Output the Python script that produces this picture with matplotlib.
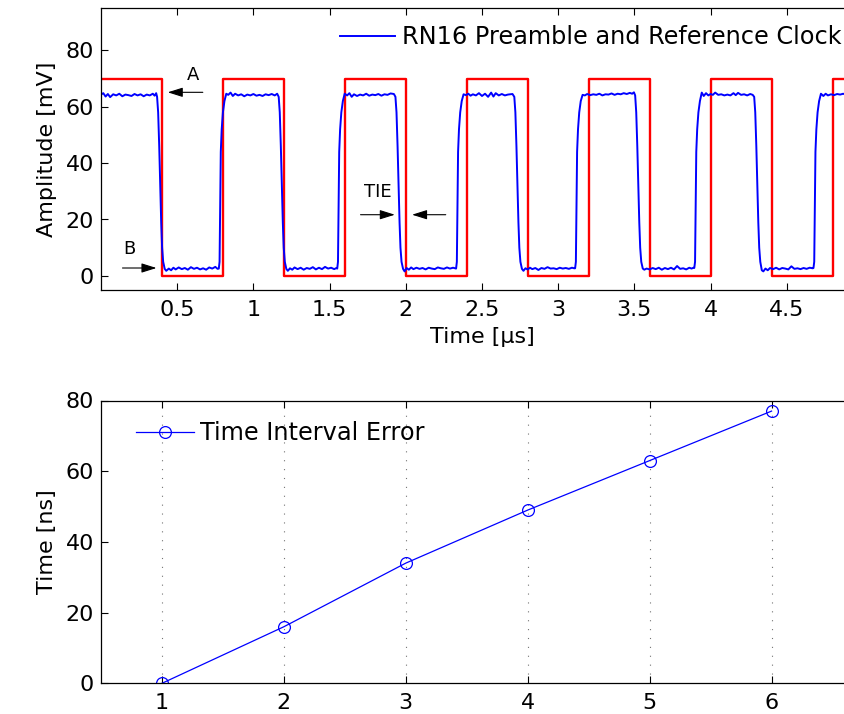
import matplotlib
matplotlib.use('Agg')
import matplotlib.pyplot as plt

plt.rcParams['font.family'] = ['DejaVu Sans']

# ---------------- data ----------------
# reference clock (step levels, mV) at switching instants (us)
clock_t = [0.0, 0.4, 0.8, 1.2, 1.6, 2.0, 2.4, 2.8, 3.2, 3.6, 4.0, 4.4, 4.8, 5.2]
clock_mv = [70, 0, 70, 0, 70, 0, 70, 0, 70, 0, 70, 0, 70, 0]

# RN16 preamble trace (us, mV)
blue_t = [
    0.000, 0.015, 0.030, 0.045, 0.060, 0.080, 0.100, 0.120, 0.140, 0.160, 0.180, 0.200, 0.220, 0.240, 0.260, 0.280, 0.300, 0.320, 0.340, 0.352, 0.362,
    0.368, 0.375, 0.382, 0.388, 0.395, 0.401, 0.408, 0.418, 0.428,
    0.445, 0.46, 0.475, 0.49, 0.51, 0.53, 0.55, 0.57, 0.59, 0.61, 0.63, 0.65, 0.67, 0.69, 0.71, 0.73, 0.75, 0.765,
    0.773, 0.778, 0.782, 0.786, 0.792, 0.800, 0.810, 0.822,
    0.835, 0.85, 0.865, 0.88, 0.90, 0.92, 0.94, 0.96, 0.98, 1.00, 1.02, 1.04, 1.06, 1.08, 1.10, 1.12, 1.14, 1.156,
    1.166, 1.173, 1.180, 1.186, 1.193, 1.199, 1.206, 1.216, 1.226,
    1.24, 1.255, 1.27, 1.29, 1.31, 1.33, 1.35, 1.37, 1.39, 1.41, 1.43, 1.45, 1.47, 1.49, 1.51, 1.53, 1.545,
    1.550, 1.555, 1.559, 1.563, 1.569, 1.577, 1.587, 1.599,
    1.615, 1.63, 1.645, 1.66, 1.68, 1.70, 1.72, 1.74, 1.76, 1.78, 1.80, 1.82, 1.84, 1.86, 1.88, 1.90, 1.922,
    1.932, 1.939, 1.946, 1.952, 1.959, 1.965, 1.972, 1.982, 1.992,
    2.005, 2.02, 2.035, 2.05, 2.07, 2.09, 2.11, 2.13, 2.15, 2.17, 2.19, 2.21, 2.23, 2.25, 2.27, 2.29, 2.31, 2.325,
    2.330, 2.335, 2.339, 2.343, 2.349, 2.357, 2.367, 2.379,
    2.395, 2.41, 2.425, 2.44, 2.46, 2.48, 2.50, 2.52, 2.54, 2.56, 2.575, 2.59, 2.61, 2.63, 2.65, 2.67, 2.70,
    2.712, 2.719, 2.726, 2.732, 2.739, 2.745, 2.752, 2.762, 2.772,
    2.785, 2.80, 2.815, 2.83, 2.85, 2.87, 2.89, 2.91, 2.93, 2.95, 2.97, 2.99, 3.01, 3.03, 3.05, 3.07, 3.09, 3.105,
    3.111, 3.116, 3.120, 3.124, 3.130, 3.138, 3.148, 3.160,
    3.175, 3.19, 3.21, 3.23, 3.25, 3.27, 3.29, 3.31, 3.33, 3.35, 3.37, 3.39, 3.41, 3.43, 3.45, 3.47, 3.485, 3.497,
    3.505, 3.512, 3.519, 3.525, 3.532, 3.538, 3.545, 3.555, 3.565,
    3.58, 3.60, 3.62, 3.64, 3.66, 3.68, 3.70, 3.72, 3.74, 3.76, 3.78, 3.80, 3.82, 3.84, 3.86, 3.875, 3.888,
    3.893, 3.898, 3.902, 3.906, 3.912, 3.920, 3.930, 3.942,
    3.955, 3.97, 3.985, 4.00, 4.015, 4.03, 4.05, 4.07, 4.09, 4.11, 4.13, 4.15, 4.165, 4.18, 4.20, 4.22, 4.24, 4.26, 4.276,
    4.286, 4.293, 4.300, 4.306, 4.313, 4.319, 4.326, 4.336, 4.346,
    4.36, 4.375, 4.39, 4.41, 4.43, 4.45, 4.47, 4.49, 4.51, 4.53, 4.55, 4.57, 4.59, 4.61, 4.63, 4.65, 4.67,
    4.675, 4.680, 4.684, 4.688, 4.694, 4.702, 4.712, 4.724,
    4.74, 4.755, 4.77, 4.79, 4.81, 4.83, 4.85, 4.87, 4.89, 4.91, 4.93, 4.95, 4.97, 5.0,
]
blue_mv = [
    64.3, 64.8, 63.6, 64.5, 63.4, 64.4, 64.0, 64.6, 63.7, 64.3, 64.1, 63.8, 64.5, 64.0, 64.4, 63.7, 64.3, 64.0, 64.6, 63.9, 64.8,
    63.5, 58, 46, 33, 19, 10, 5, 2.5, 1.8,
    2.6, 2.0, 2.9, 2.3, 3.0, 2.4, 2.8, 2.2, 3.1, 2.5, 2.9, 2.3, 2.7, 2.2, 3.0, 2.6, 3.2, 2.5,
    2.6, 5, 25, 44, 52, 58, 62, 64.6,
    64.2, 65.0, 63.8, 64.6, 64.0, 64.4, 63.7, 64.3, 64.0, 64.5, 63.9, 64.2, 63.8, 64.4, 64.1, 64.5, 64.0, 64.6,
    63.5, 58, 46, 33, 19, 10, 5, 2.5, 1.8,
    2.7, 2.2, 3.0, 2.4, 2.9, 2.2, 2.8, 2.5, 3.1, 2.3, 2.9, 2.4, 3.2, 2.6, 2.9, 2.4, 2.8,
    2.6, 5, 25, 44, 52, 58, 62, 64.6,
    64.0, 64.8, 63.5, 64.4, 63.8, 64.3, 64.0, 64.6, 63.9, 64.3, 64.1, 64.5, 63.9, 64.4, 64.2, 64.7, 64.5,
    63.5, 58, 46, 33, 19, 10, 5, 2.5, 1.6,
    2.8, 2.2, 3.0, 2.4, 2.9, 2.5, 2.8, 2.3, 2.9, 2.6, 2.4, 3.0, 2.7, 2.5, 3.0, 2.6, 2.9, 2.7,
    2.6, 5, 25, 44, 52, 58, 62, 64.4,
    64.1, 64.6, 63.9, 64.4, 64.0, 64.8, 63.8, 64.6, 63.5, 65.0, 63.6, 64.8, 64.0, 64.5, 64.0, 64.3, 64.5,
    63.5, 58, 46, 33, 19, 10, 5, 2.5, 1.8,
    2.7, 2.3, 2.9, 2.4, 2.8, 2.1, 2.8, 2.5, 3.1, 2.6, 2.7, 2.4, 2.9, 2.6, 2.8, 2.5, 2.9, 2.7,
    2.7, 5, 25, 44, 52, 58, 62, 64.2,
    64.0, 64.5, 64.1, 64.4, 64.2, 64.6, 64.0, 64.4, 64.3, 64.7, 64.2, 64.6, 64.4, 64.8, 64.5, 64.9, 64.6, 65.1,
    64.0, 58, 46, 33, 19, 10, 5, 2.6, 2.2,
    2.6, 2.3, 2.8, 2.4, 2.9, 2.2, 2.8, 2.4, 2.9, 2.3, 3.5, 2.5, 2.7, 2.3, 2.9, 2.6, 2.9,
    2.8, 5, 25, 44, 52, 58, 62, 65.0,
    63.8, 64.8, 64.0, 64.5, 64.2, 65.0, 64.2, 64.4, 64.0, 64.3, 64.0, 64.8, 64.1, 64.9, 64.2, 64.4, 64.0, 64.5, 64.2,
    63.5, 58, 46, 33, 19, 10, 5, 2.0, 1.6,
    2.6, 2.0, 2.8, 2.4, 2.9, 2.3, 2.8, 2.6, 2.3, 3.4, 2.5, 2.7, 2.4, 2.8, 2.5, 2.9, 2.7,
    2.8, 5, 25, 44, 52, 58, 62, 64.6,
    63.8, 64.6, 64.0, 64.4, 64.1, 64.5, 64.3, 64.6, 64.2, 64.5, 64.3, 64.6, 64.2, 64.4,
]

tie_index = [1, 2, 3, 4, 5, 6]
tie_ns = [0, 16, 34, 49, 63, 77]

top_xticks = [0.5, 1, 1.5, 2, 2.5, 3, 3.5, 4, 4.5]
top_xticklabels = ['0.5', '1', '1.5', '2', '2.5', '3', '3.5', '4', '4.5']
top_yticks = [0, 20, 40, 60, 80]
bot_xticks = [1, 2, 3, 4, 5, 6]
bot_yticks = [0, 20, 40, 60, 80]

legend_top = 'RN16 Preamble and Reference Clock'
legend_bot = 'Time Interval Error'

# ---------------- figure ----------------
W, H = 844, 714
fig = plt.figure(figsize=(W / 100, H / 100), dpi=100)
FS = 16
FS_LEG = 17.3

def px_axes(l, t, r, b):
    return [l / W, 1 - b / H, (r - l) / W, (b - t) / H]

ax1 = fig.add_axes(px_axes(101, 8, 863, 290))
ax2 = fig.add_axes(px_axes(101, 400.5, 863, 683.3))

for ax in (ax1, ax2):
    for s in ax.spines.values():
        s.set_linewidth(0.9)
        s.set_color('black')
    ax.tick_params(direction='in', length=5, width=0.8, top=True, right=True,
                   labelsize=FS, colors='black')
    ax.tick_params(axis='x', pad=7)
    ax.tick_params(axis='y', pad=5)

# top panel
ax1.plot(clock_t, clock_mv, drawstyle='steps-post', color=(1, 0, 0), lw=1.7)
bl, = ax1.plot(blue_t, blue_mv, color=(0, 0, 1), lw=1.4, solid_joinstyle='round')
ax1.set_xlim(0, 5)
ax1.set_ylim(-5, 95)
ax1.set_xticks(top_xticks)
ax1.set_xticklabels(top_xticklabels)
ax1.set_yticks(top_yticks)
ax1.set_xlabel('Time [\u03bcs]', fontsize=FS, labelpad=5)
ax1.set_ylabel('Amplitude [mV]', fontsize=FS, labelpad=6)

ax1.legend([bl], [legend_top], loc='center left',
           bbox_to_anchor=(340 / W, 1 - 37 / H), bbox_transform=fig.transFigure,
           frameon=False, borderpad=0, borderaxespad=0, handlelength=2.3,
           handletextpad=0.28, fontsize=FS_LEG)

arrow_kw = dict(arrowstyle='-|>,head_length=0.7,head_width=0.22', color='black',
                lw=0.8, mutation_scale=13, shrinkA=0, shrinkB=0)
ax1.annotate('', xy=(0.438, 65.1), xytext=(0.668, 65.1), arrowprops=arrow_kw)
ax1.text(0.604, 71.3, 'A', fontsize=13, ha='center', va='center')
ax1.annotate('', xy=(0.364, 2.8), xytext=(0.141, 2.8), arrowprops=arrow_kw)
ax1.text(0.185, 9.7, 'B', fontsize=13, ha='center', va='center')
ax1.annotate('', xy=(1.928, 21.7), xytext=(1.703, 21.7), arrowprops=arrow_kw)
ax1.annotate('', xy=(2.041, 21.7), xytext=(2.262, 21.7), arrowprops=arrow_kw)
ax1.text(1.818, 29.7, 'TIE', fontsize=13, ha='center', va='center')

# bottom panel
ln, = ax2.plot(tie_index, tie_ns, color=(0, 0, 1), lw=0.9, marker='o', ms=8.5,
               mfc='none', mec=(0, 0, 1), mew=0.9)
ax2.set_xlim(0.5, 6.75)
ax2.set_ylim(0, 80)
ax2.set_xticks(bot_xticks)
ax2.set_yticks(bot_yticks)
ax2.xaxis.grid(True, color='0.45', linestyle=(0, (1, 7)), lw=0.8)
ax2.set_axisbelow(True)
ax2.set_ylabel('Time [ns]', fontsize=FS, labelpad=6)
ax2.legend([ln], [legend_bot], loc='center left', numpoints=1,
           bbox_to_anchor=(136 / W, 1 - 433 / H), bbox_transform=fig.transFigure,
           frameon=False, borderpad=0, borderaxespad=0, handlelength=2.4,
           handletextpad=0.27, fontsize=FS_LEG)

fig.savefig('out.png', dpi=100, facecolor='white')
